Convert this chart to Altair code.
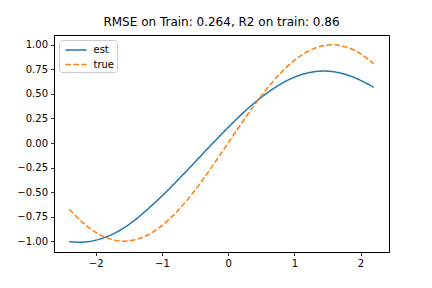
import altair as alt
import pandas as pd

xs = [-2.4, -2.2, -2.0, -1.8, -1.6, -1.4, -1.2, -1.0, -0.8, -0.6, -0.4, -0.2,
      0.0, 0.2, 0.4, 0.6, 0.8, 1.0, 1.2, 1.4, 1.6, 1.8, 2.0, 2.2]
est = [-1.005, -1.01, -0.99, -0.945, -0.875, -0.78, -0.665, -0.54, -0.405, -0.265,
       -0.122, 0.02, 0.158, 0.29, 0.41, 0.515, 0.603, 0.67, 0.713, 0.732,
       0.725, 0.693, 0.638, 0.567]
true = [-0.675, -0.808, -0.909, -0.974, -1.0, -0.985, -0.932, -0.841, -0.717,
        -0.565, -0.389, -0.199, 0.0, 0.199, 0.389, 0.565, 0.717, 0.841, 0.932,
        0.985, 1.0, 0.974, 0.909, 0.808]
series = ["est", "true"]
title = "RMSE on Train: 0.264, R2 on train: 0.86"
x_ticks = [-2, -1, 0, 1, 2]
y_ticks = [-1.0, -0.75, -0.5, -0.25, 0.0, 0.25, 0.5, 0.75, 1.0]

rows = []
for x, e, t in zip(xs, est, true):
    rows.append({"x": x, "y": e, "s": "est"})
    rows.append({"x": x, "y": t, "s": "true"})
df = pd.DataFrame(rows)

font = "DejaVu Sans"

chart = alt.Chart(df).mark_line(strokeWidth=1.5, interpolate="natural").encode(
    x=alt.X("x:Q", scale=alt.Scale(domain=[-2.63, 2.43], nice=False, zero=False),
            axis=alt.Axis(values=x_ticks, title=None, format="d")),
    y=alt.Y("y:Q", scale=alt.Scale(domain=[-1.11, 1.1], nice=False, zero=False),
            axis=alt.Axis(values=y_ticks, title=None, format=".2f")),
    color=alt.Color("s:N", scale=alt.Scale(domain=series, range=["#1f77b4", "#ff7f0e"]),
                    legend=alt.Legend(title=None, orient="top-left", offset=5,
                                      symbolType="M-0.5,0H2.5", symbolSize=196,
                                      symbolStrokeWidth=1.5, labelFontSize=10,
                                      labelFont=font, labelColor="black",
                                      padding=2, rowPadding=1.6, cornerRadius=3,
                                      strokeColor="#cccccc", fillColor="white",
                                      labelOffset=16.5)),
    strokeDash=alt.StrokeDash("s:N", scale=alt.Scale(domain=series, range=[[1, 0], [5.5, 2.4]]),
                              legend=None),
).properties(
    width=335, height=217,
    padding={"left": 46, "top": 27, "right": 35, "bottom": 28},
    autosize="none",
    title=alt.TitleParams(title, fontSize=12, font=font, fontWeight="normal",
                          color="black", anchor="middle", offset=6),
).configure_view(stroke="black", strokeWidth=1).configure_axis(
    grid=False, domainColor="black", domainWidth=1, tickColor="black",
    tickSize=3.5, tickWidth=0.8, labelFont=font, labelFontSize=10,
    labelColor="black", labelPadding=3,
)

chart.save("out.html", embed_options={"renderer": "svg", "actions": False})
